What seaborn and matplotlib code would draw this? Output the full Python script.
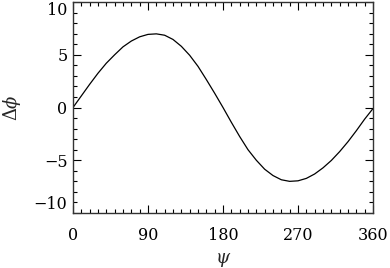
import matplotlib
matplotlib.use("Agg")
import matplotlib.pyplot as plt
from matplotlib.ticker import MultipleLocator
import seaborn as sns
import pandas as pd

psi = [0, 10, 20, 30, 40, 50, 60, 70, 80, 90, 100, 110, 120, 130, 140, 150, 160, 170, 180,
       190, 200, 210, 220, 230, 240, 250, 260, 270, 280, 290, 300, 310, 320, 330, 340, 350, 360]
dphi = [0.0, 1.1, 2.2, 3.25, 4.2, 5.0, 5.75, 6.3, 6.7, 6.93, 6.98, 6.85, 6.45, 5.8, 4.95, 3.9, 2.65, 1.35, 0.0,
        -1.4, -2.75, -4.0, -5.0, -5.85, -6.45, -6.85, -7.0, -6.95, -6.72, -6.3, -5.72, -5.02, -4.18, -3.24, -2.2, -1.1, -0.1]
xticks = [0, 90, 180, 270, 360]
yticks = [-10, -5, 0, 5, 10]

sns.set_style("ticks")
plt.rcParams['font.family'] = ['DejaVu Serif']
plt.rcParams['mathtext.fontset'] = 'dejavuserif'

df = pd.DataFrame({"psi": psi, "dphi": dphi})

fig = plt.figure(figsize=(3.9, 2.68), dpi=100)
ax = fig.add_axes([73/390, 1-213/268, 300/390, 211/268])
sns.lineplot(data=df, x="psi", y="dphi", ax=ax, color="black", linewidth=0.9)

ax.set_xlim(0, 360)
ax.set_ylim(-10, 10)
ax.set_xticks(xticks)
ax.set_yticks(yticks)
ax.set_xticklabels([str(v) for v in xticks])
ax.set_yticklabels([("\u2212" + str(-v)) if v < 0 else str(v) for v in yticks])
ax.xaxis.set_minor_locator(MultipleLocator(10))
ax.yaxis.set_minor_locator(MultipleLocator(1))
ax.tick_params(which='both', direction='in', top=True, right=True, colors='black', width=0.8)
ax.tick_params(which='major', length=5.5, labelsize=11.5)
ax.tick_params(axis='x', which='major', pad=10)
ax.tick_params(axis='y', which='major', pad=4)
ax.tick_params(which='minor', length=2.8)
ylabs = ax.get_yticklabels()
ylabs[-1].set_va('top')
ylabs[0].set_va('bottom')
for s in ax.spines.values():
    s.set_visible(True)
    s.set_linewidth(1.0)
    s.set_color('#333333')

ax.set_xlabel(r'$\psi$', fontsize=13, labelpad=5)
ax.set_ylabel(r'$\Delta\phi$', fontsize=13, labelpad=7.5)

fig.savefig("out.png", dpi=100)
